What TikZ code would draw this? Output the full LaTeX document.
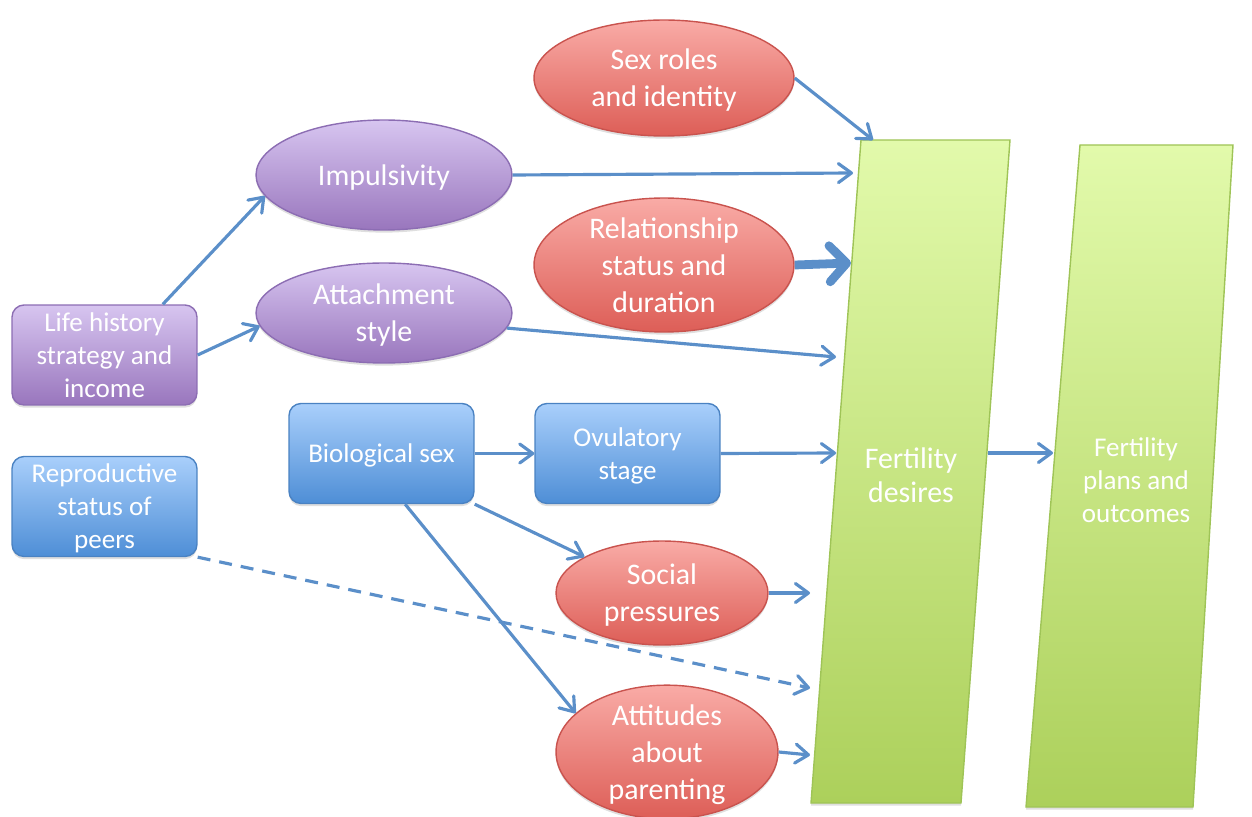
\documentclass[tikz,border=0pt]{standalone}
\usepackage{fontspec}
\setmainfont{Carlito}
\usetikzlibrary{arrows.meta,shapes.geometric,shadows}
\definecolor{arr}{HTML}{5B8FC9}
\definecolor{redT}{HTML}{F9ABA6}
\definecolor{redBot}{HTML}{DD5E57}
\definecolor{redB}{HTML}{C9534E}
\definecolor{purT}{HTML}{D7C5F0}
\definecolor{purBot}{HTML}{9976BD}
\definecolor{purB}{HTML}{8C6DB3}
\definecolor{bluT}{HTML}{A9CFFB}
\definecolor{bluBot}{HTML}{4E8ED6}
\definecolor{bluB}{HTML}{4A82C2}
\definecolor{greT}{HTML}{E2FAAB}
\definecolor{greBot}{HTML}{ACD05B}
\definecolor{greB}{HTML}{9FC457}
\newcommand\ellfont{\fontsize{17pt}{21pt}\selectfont}
\newcommand\boxfont{\fontsize{15.4pt}{18.8pt}\selectfont}
\newcommand\fdfont{\fontsize{17pt}{19.3pt}\selectfont}
\newcommand\fpfont{\fontsize{15.4pt}{19pt}\selectfont}
\begin{document}
\begin{tikzpicture}[x=0.02cm,y=-0.02cm,
  shad/.style={drop shadow={opacity=0.25,shadow xshift=0pt,shadow yshift=-1.5pt}},
  ell/.style={ellipse,inner sep=0pt,align=center,text=white,font=\ellfont,text depth=0pt,line width=0.8pt,shad},
  redell/.style={ell,draw=redB,top color=redT,bottom color=redBot},
  purell/.style={ell,draw=purB,top color=purT,bottom color=purBot},
  box/.style={rectangle,rounded corners=0.24cm,inner sep=0pt,align=center,text=white,font=\boxfont,text depth=0pt,
    line width=0.8pt,minimum width=3.7cm,minimum height=2cm,shad},
  purbox/.style={box,draw=purB,top color=purT,bottom color=purBot},
  blubox/.style={box,draw=bluB,top color=bluT,bottom color=bluBot},
  green/.style={draw=greB,line width=0.8pt,top color=greT,bottom color=greBot,shad},
  conn/.style={draw=arr,line width=1.8pt,-{Straight Barb[length=0.26cm,width=0.38cm,round]}},
  thickconn/.style={draw=arr,line width=5pt,-{Straight Barb[length=0.34cm,width=0.72cm,round]}},
  dashconn/.style={conn,dash pattern=on 0.26cm off 0.18cm},
  lbl/.style={text=white,align=center,text depth=0pt}
]
\useasboundingbox (0,0) rectangle (1252,817);

% green columns
\path[green] (861,140) -- (1010,140) -- (961,803) -- (811,803) -- cycle;
\path[green] (1080,145) -- (1233,145) -- (1193,807) -- (1026,807) -- cycle;
\node[lbl,font=\fdfont] (fd) at (911,475) {Fertility\\desires};
\node[lbl,font=\fpfont] (fp) at (1136,480) {Fertility\\plans and\\outcomes};

% input points on the columns
\coordinate (inSex) at (873,140);
\coordinate (inImp) at (853,173);
\coordinate (inRel) at (851,263);
\coordinate (inAtt) at (836,357);
\coordinate (inOvu) at (836,453);
\coordinate (inSoc) at (810,593);
\coordinate (inRep) at (810,688);
\coordinate (inAtd) at (810,755);
\coordinate (outFD) at (988,453);
\coordinate (inFP) at (1053,453);

% ellipses
\node[redell,minimum width=5.2cm,minimum height=2.32cm] (sex) at (664,78) {Sex roles\\and identity};
\node[purell,minimum width=5.12cm,minimum height=2.2cm] (imp) at (384,175) {Impulsivity};
\node[redell,minimum width=5.2cm,minimum height=2.68cm] (rel) at (664,265) {Relationship\\status and\\duration};
\node[purell,minimum width=5.12cm,minimum height=2cm] (att) at (384,313) {Attachment\\style};
\node[redell,minimum width=4.24cm,minimum height=2.08cm] (soc) at (662,593) {Social\\pressures};
\node[redell,minimum width=4.44cm,minimum height=2.52cm] (atd) at (667,752) {Attitudes\\about\\parenting};

% boxes
\node[purbox] (lh) at (104.5,355) {Life history\\strategy and\\income};
\node[blubox] (rep) at (104.5,506.5) {Reproductive\\status of\\peers};
\node[blubox] (bio) at (381.5,453.5) {Biological sex};
\node[blubox] (ovu) at (627.5,453.5) {Ovulatory\\stage};

% connectors
\draw[conn] (sex.east) -- (inSex);
\draw[conn] (imp.east) -- (inImp);
\draw[thickconn] (rel.east) -- (inRel);
\draw[conn] (att.-7) -- (inAtt);
\draw[conn] (ovu.east) -- (inOvu);
\draw[conn] (soc.east) -- (inSoc);
\draw[conn] (atd.east) -- (inAtd);
\draw[dashconn] (rep.south east) -- (inRep);
\draw[conn] (outFD) -- (inFP);
\draw[conn] (lh.41) -- (imp.190);
\draw[conn] (lh.east) -- (att.186);
\draw[conn] (bio.east) -- (ovu.west);
\draw[conn] (bio.south east) -- (soc.155);
\draw[conn] (bio.-65.6) -- (atd.157);
\end{tikzpicture}
\end{document}
